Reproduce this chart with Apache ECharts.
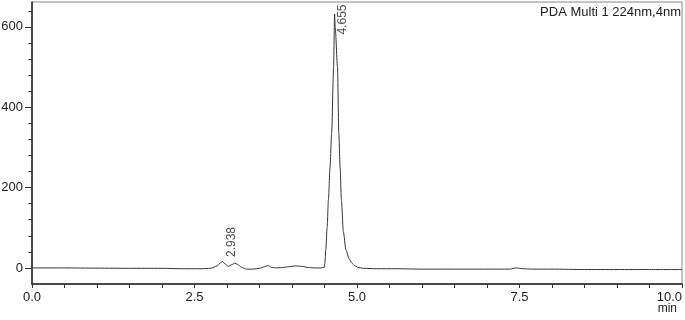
<!DOCTYPE html>
<html>
<head>
<meta charset="utf-8">
<script src="https://cdn.jsdelivr.net/npm/echarts@6/dist/echarts.min.js"></script>
<style>
html,body{margin:0;padding:0;background:#fff;}
#chart{width:685px;height:320px;}
</style>
</head>
<body>
<div id="chart"></div>
<script>
// Retention time (min)
const times = [0.0, 0.5, 1.0, 1.5, 2.0, 2.3, 2.6, 2.75, 2.85, 2.9, 2.93, 2.97, 3.02, 3.07, 3.12, 3.16, 3.22, 3.3, 3.4, 3.5, 3.58, 3.63, 3.68, 3.75, 3.85, 3.95, 4.05, 4.15, 4.25, 4.35, 4.45, 4.5, 4.505, 4.52, 4.54, 4.56, 4.585, 4.61, 4.64, 4.655, 4.665, 4.7, 4.72, 4.74, 4.76, 4.79, 4.83, 4.88, 4.92, 4.97, 5.02, 5.1, 5.3, 5.6, 6.0, 6.5, 7.0, 7.35, 7.45, 7.55, 7.7, 8.0, 8.5, 9.0, 9.5, 10.0];
// Absorbance signal (mAU)
const signal = [0, 0, -0.5, -1, -1, -2, -2, -1, 5, 13, 16, 10, 4, 8, 12, 9, 2, -3, -3, -1, 3, 6, 2, 0, 1, 3, 5, 4, 1, 0, 0, 2, 12, 45, 100, 169, 250, 336, 500, 632, 600, 500, 336, 250, 169, 90, 45, 22, 12, 5, 1, -1, -2, -2, -3, -3, -3, -3, 0, -2, -3, -3, -4, -4, -4, -4];
// Labelled peaks
const peakTimes = [2.938, 4.655];
const peakHeights = [16, 632];
// Axis ticks
const yMajorTicks = [0, 200, 400, 600];
const yMinorTicks = [40, 80, 120, 160, 240, 280, 320, 360, 440, 480, 520, 560, 640];
const xLabelTicks = [0, 2.5, 5, 7.5, 10];
const titleText = 'PDA Multi 1 224nm,4nm';
const xUnit = 'min';

const font = 'Liberation Sans, Arial, sans-serif';
const chart = echarts.init(document.getElementById('chart'));
const lineData = times.map((t, i) => [t, signal[i]]);
// offsets are in the rotated label frame: [up, right]
const labelOffsets = [[4, 9], [-21, 9]];
const peakData = peakTimes.map((t, i) => ({
  value: [t, peakHeights[i]],
  label: { offset: labelOffsets[i] }
}));

chart.setOption({
  animation: false,
  title: [
    { text: titleText, right: -1, top: 1, textStyle: { fontFamily: font, fontSize: 13, fontWeight: 'normal', color: '#222' } },
    { text: xUnit, right: 3, bottom: 0, textStyle: { fontFamily: font, fontSize: 12, fontWeight: 'normal', color: '#222' } }
  ],
  grid: { left: 32, right: 3, top: 2, bottom: 36, outerBoundsMode: 'none', containLabel: false, show: true, borderColor: '#888', borderWidth: 1, backgroundColor: 'transparent' },
  xAxis: {
    type: 'value', min: 0, max: 10, interval: 0.5,
    axisLine: { show: true, onZero: false, lineStyle: { color: '#222', width: 1.5 } },
    axisTick: { show: true, length: 4, lineStyle: { color: '#333' } },
    axisLabel: { customValues: xLabelTicks, alignMaxLabel: 'right', formatter: v => v.toFixed(1), fontFamily: font, fontSize: 13, color: '#222', margin: 7 },
    splitLine: { show: false }
  },
  yAxis: [
    {
      type: 'value', min: -40, max: 662,
      axisLine: { show: true, onZero: false, lineStyle: { color: '#222', width: 1.5 } },
      axisTick: { show: true, length: 7, customValues: yMajorTicks, lineStyle: { color: '#333' } },
      axisLabel: { customValues: yMajorTicks, fontFamily: font, fontSize: 13, color: '#222', margin: 9 },
      splitLine: { show: false }
    },
    {
      type: 'value', min: -40, max: 662, position: 'left',
      axisLine: { show: false },
      axisTick: { show: true, length: 3.5, customValues: yMinorTicks, lineStyle: { color: '#333' } },
      axisLabel: { show: false },
      splitLine: { show: false }
    }
  ],
  series: [
    {
      type: 'line', data: lineData, showSymbol: false, symbol: 'none',
      smooth: 0.25, smoothMonotone: 'x',
      lineStyle: { color: '#333', width: 1 }
    },
    {
      type: 'scatter', data: peakData, symbolSize: 1,
      itemStyle: { color: 'rgba(0,0,0,0)' },
      label: {
        show: true, position: [0, 0], rotate: 90, align: 'left', verticalAlign: 'middle',
        formatter: p => p.value[0].toFixed(3),
        fontFamily: font, fontSize: 12, color: '#222'
      }
    }
  ]
});
</script>
</body>
</html>
